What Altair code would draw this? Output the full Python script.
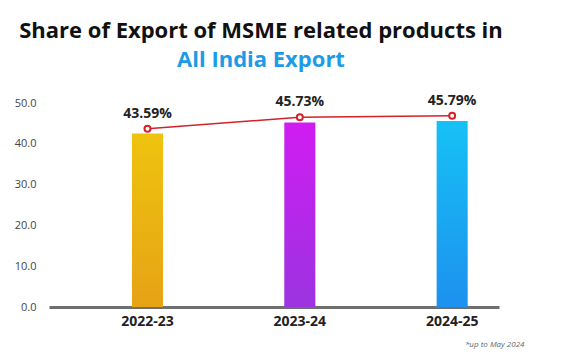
import altair as alt
import pandas as pd

years = ["2022-23", "2023-24", "2024-25"]
bar_values = [42.5, 45.2, 45.6]
line_values = [43.7, 46.5, 46.9]
labels = ["43.59%", "45.73%", "45.79%"]
grad_top = ["#EEC30E", "#D01CF2", "#16C1F5"]
grad_bottom = ["#E6A316", "#9B34E0", "#1D91EE"]
y_ticks = [0, 10, 20, 30, 40, 50]

df = pd.DataFrame({"year": years, "bar": bar_values, "line": line_values, "label": labels})

FONT = "Open Sans"

x_enc = alt.X(
    "year:N",
    sort=years,
    scale=alt.Scale(paddingInner=0.796, paddingOuter=0.375, align=0.726),
    axis=alt.Axis(
        title="*up to May 2024",
        titleFontSize=8,
        titleFontStyle="italic",
        titleFontWeight="normal",
        titleColor="#666666",
        titleFont=FONT,
        titleX=475,
        titleY=33,
        titleAlign="right",
        labelAngle=0,
        labelFontSize=14,
        labelFontWeight="bold",
        labelColor="#222222",
        labelFont=FONT,
        labelPadding=7,
        ticks=False,
        domainColor="#6f6f6f",
        domainWidth=3,
        grid=False,
    ),
)

y_scale = alt.Scale(domain=[0, 50], nice=False)
y_axis = alt.Axis(
    values=y_ticks,
    format=".1f",
    labelFontSize=11,
    labelColor="#444444",
    labelFont=FONT,
    labelPadding=13,
    domain=False,
    ticks=False,
    grid=False,
    title=None,
)

base = alt.Chart(df)

bar_layers = []
for i, yr in enumerate(years):
    bar_layers.append(
        base.transform_filter(alt.datum.year == yr)
        .mark_bar(
            color=alt.Gradient(
                gradient="linear",
                stops=[
                    alt.GradientStop(color=grad_top[i], offset=0),
                    alt.GradientStop(color=grad_bottom[i], offset=1),
                ],
                x1=0, x2=0, y1=0, y2=1,
            )
        )
        .encode(x=x_enc, y=alt.Y("bar:Q", scale=y_scale, axis=y_axis))
    )

line = base.mark_line(color="#D2232A", strokeWidth=1.5).encode(
    x=alt.X("year:N", sort=years), y=alt.Y("line:Q")
)
points = base.mark_point(
    shape="circle", size=36, fill="white", stroke="#D2232A", strokeWidth=2, opacity=1
).encode(x=alt.X("year:N", sort=years), y=alt.Y("line:Q"))
text = base.mark_text(
    dy=-15, fontSize=14, fontWeight="bold", color="#222222", font=FONT
).encode(x=alt.X("year:N", sort=years), y=alt.Y("line:Q"), text="label:N")

chart = (
    alt.layer(*bar_layers, line, points, text)
    .properties(
        width=450,
        height=204,
        autosize=alt.AutoSizeParams(type="none"),
        padding={"left": 41, "top": 95, "right": 66, "bottom": 48},
        title=alt.TitleParams(
            text="Share of Export of MSME related products in",
            subtitle="All India Export",
            font=FONT,
            fontSize=22,
            fontWeight="bold",
            color="#111111",
            subtitleFont=FONT,
            subtitleFontSize=22,
            subtitleFontWeight="bold",
            subtitleColor="#1E9BE6",
            subtitlePadding=7,
            anchor="middle",
            dx=-13,
            offset=22,
        ),
    )
    .configure_view(stroke=None)
)

chart.save("out.html", embed_options={"renderer": "svg", "actions": False})
